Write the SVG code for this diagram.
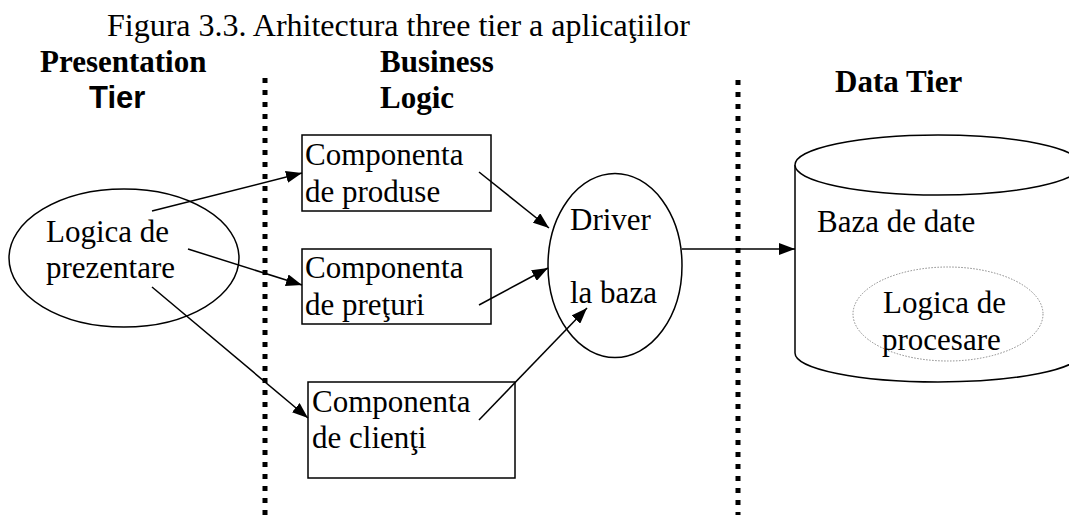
<svg xmlns="http://www.w3.org/2000/svg" width="1069" height="515" viewBox="0 0 1069 515">
<style>
text{font-family:"Liberation Serif","Times New Roman",serif;font-size:31px;fill:#000}
.h{font-weight:bold}
.hs{font-family:"Liberation Sans",Arial,sans-serif;font-weight:bold}
.shape{fill:#fff;stroke:#000;stroke-width:1.5}
.sep{stroke:#000;stroke-width:5;stroke-dasharray:5 7;fill:none}
.con{stroke:#000;stroke-width:1.5;fill:none;marker-end:url(#ah)}
.dot{fill:none;stroke:#888;stroke-width:1;stroke-dasharray:1.5 1.5}
</style>
<defs>
<marker id="ah" viewBox="0 0 16 12" refX="16" refY="6" markerWidth="16" markerHeight="12" markerUnits="userSpaceOnUse" orient="auto">
<path d="M0,0 L16,6 L0,12 Z" fill="#000"/>
</marker>
</defs>
<rect width="1069" height="515" fill="#fff"/>
<text x="107" y="36" style="font-size:32px">Figura 3.3. Arhitectura three tier a aplicaţiilor</text>
<text class="h" x="40" y="72">Presentation</text>
<text class="hs" x="89" y="108">Tier</text>
<text class="h" x="380" y="72">Business</text>
<text class="h" x="380" y="108">Logic</text>
<text class="h" x="835" y="92">Data Tier</text>
<g id="separators">
<line class="sep" x1="265" y1="78" x2="265" y2="515"/>
<line class="sep" x1="738" y1="80" x2="738" y2="515"/>
</g>
<g id="presentation">
<ellipse class="shape" cx="124" cy="258" rx="115" ry="69"/>
<text x="46" y="242">Logica de</text>
<text x="46" y="278">prezentare</text>
</g>
<g id="comp-produse">
<rect class="shape" x="302" y="135" width="189" height="76"/>
<text x="305" y="165">Componenta</text>
<text x="305" y="202">de produse</text>
</g>
<g id="comp-preturi">
<rect class="shape" x="302" y="249" width="189" height="75"/>
<text x="305" y="278">Componenta</text>
<text x="305" y="315">de preţuri</text>
</g>
<g id="comp-clienti">
<rect class="shape" x="308" y="382" width="207" height="96"/>
<text x="312" y="412">Componenta</text>
<text x="312" y="448">de clienţi</text>
</g>
<g id="driver">
<ellipse class="shape" cx="615" cy="265.5" rx="67" ry="92"/>
<text x="570" y="230">Driver</text>
<text x="570" y="303">la baza</text>
</g>
<g id="database">
<path class="shape" d="M795,165 L795,353 A143,29 0 0 0 1081,353 L1081,165"/>
<ellipse class="shape" cx="938" cy="165" rx="143" ry="30"/>
<text x="817" y="232">Baza de date</text>
<ellipse class="dot" cx="948" cy="314" rx="95" ry="47"/>
<text x="883" y="313">Logica de</text>
<text x="882" y="350">procesare</text>
</g>
<g id="connectors">
<line class="con" x1="152" y1="211" x2="302" y2="173"/>
<line class="con" x1="188" y1="249" x2="302" y2="285"/>
<line class="con" x1="152" y1="287" x2="308" y2="418"/>
<line class="con" x1="479" y1="172" x2="549" y2="228"/>
<line class="con" x1="479" y1="305" x2="548" y2="268"/>
<line class="con" x1="479" y1="420" x2="587" y2="308"/>
<line class="con" x1="682" y1="249" x2="795" y2="249"/>
</g>
</svg>
